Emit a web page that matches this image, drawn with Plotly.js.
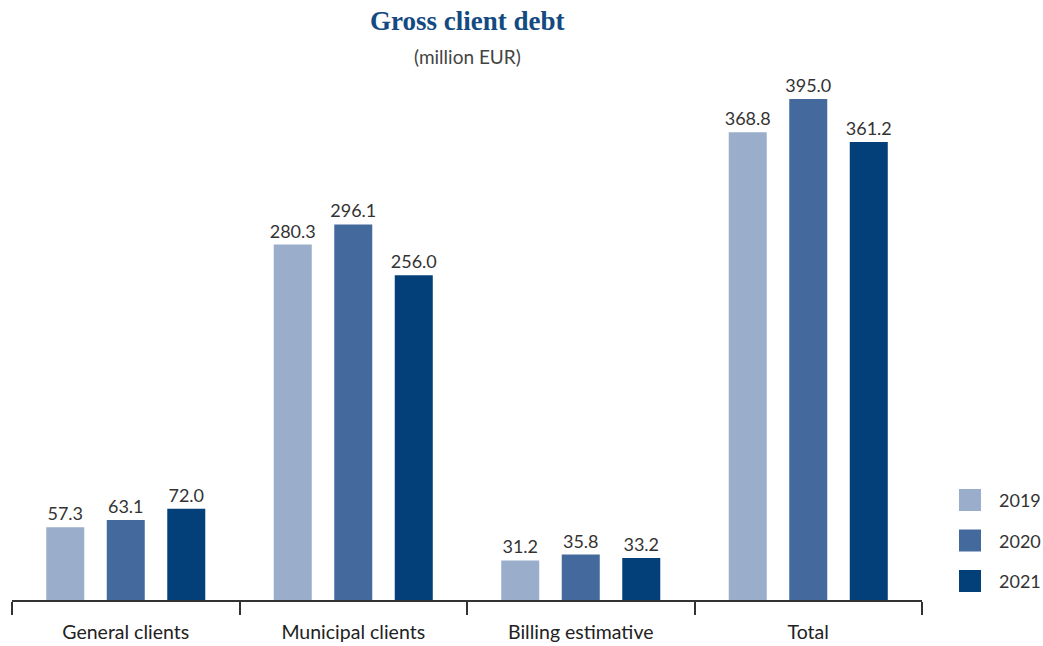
<!DOCTYPE html>
<html>
<head>
<meta charset="utf-8">
<script src="https://cdn.plot.ly/plotly-3.0.1.min.js"></script>
<style>html,body{margin:0;padding:0;background:#fff;}#chart{width:1043px;height:646px;}</style>
</head>
<body>
<div id="chart"></div>
<script>
const categories = ["General clients", "Municipal clients", "Billing estimative", "Total"];
const years = ["2019", "2020", "2021"];
const values2019 = [57.3, 280.3, 31.2, 368.8];
const values2020 = [63.1, 296.1, 35.8, 395.0];
const values2021 = [72.0, 256.0, 33.2, 361.2];
const colors = ["#9aadcb", "#44699c", "#033f78"];

const series = [values2019, values2020, values2021];
const FONT = "Lato, 'Open Sans', sans-serif";

const traces = series.map((vals, i) => ({
  type: "bar",
  name: years[i],
  x: categories,
  y: vals,
  marker: {color: colors[i], line: {width: 0}},
  text: vals.map(v => v.toFixed(1)),
  textposition: "outside",
  constraintext: "none",
  textfont: {family: FONT, size: 18, color: "#333"},
  cliponaxis: false,
  hoverinfo: "skip",
  showlegend: false
}));

// custom legend (square swatches + labels)
const shapes = [];
const annotations = [
  {text: "<b>Gross client debt</b>", xref: "paper", yref: "paper", x: 0.5, y: 1, yshift: 76,
   showarrow: false, font: {family: "'Liberation Serif', 'DejaVu Serif', serif", size: 27, color: "#134a82"}},
  {text: "(million EUR)", xref: "paper", yref: "paper", x: 0.5, y: 1, yshift: 37,
   showarrow: false, font: {family: FONT, size: 19, color: "#444"}}
];
const plotTop = 80, plotH = 520;
years.forEach((yr, i) => {
  const cy = 500 + i * 40.5; // pixel centre
  const yp = 1 - (cy - plotTop) / plotH;
  const half = 11 / plotH;
  shapes.push({type: "rect", xref: "paper", yref: "paper",
    x0: (959 - 12) / 910, x1: (981 - 12) / 910, y0: yp - half, y1: yp + half,
    fillcolor: colors[i], line: {width: 0}});
  annotations.push({text: yr, xref: "paper", yref: "paper", x: (997 - 12) / 910, y: yp,
    xanchor: "left", yanchor: "middle", showarrow: false,
    font: {family: FONT, size: 18, color: "#333"}});
});

const layout = {
  width: 1043, height: 646,
  margin: {l: 12, r: 121, t: plotTop, b: 46, pad: 0},
  paper_bgcolor: "#fff", plot_bgcolor: "#fff",
  barmode: "group",
  bargap: 0.202,
  bargroupgap: 0.372,
  xaxis: {
    type: "category",
    tickson: "boundaries",
    ticks: "outside", ticklen: 13, tickwidth: 2, tickcolor: "#333",
    ticklabelstandoff: 14,
    showline: true, linecolor: "#333", linewidth: 2,
    showgrid: false, zeroline: false,
    tickfont: {family: FONT, size: 19.5, color: "#222"},
    fixedrange: true
  },
  yaxis: {
    range: [0, 410], visible: false, showgrid: false, zeroline: false, fixedrange: true
  },
  shapes: shapes,
  annotations: annotations,
  showlegend: false
};

Plotly.newPlot("chart", traces, layout, {staticPlot: true, displayModeBar: false});
</script>
</body>
</html>
